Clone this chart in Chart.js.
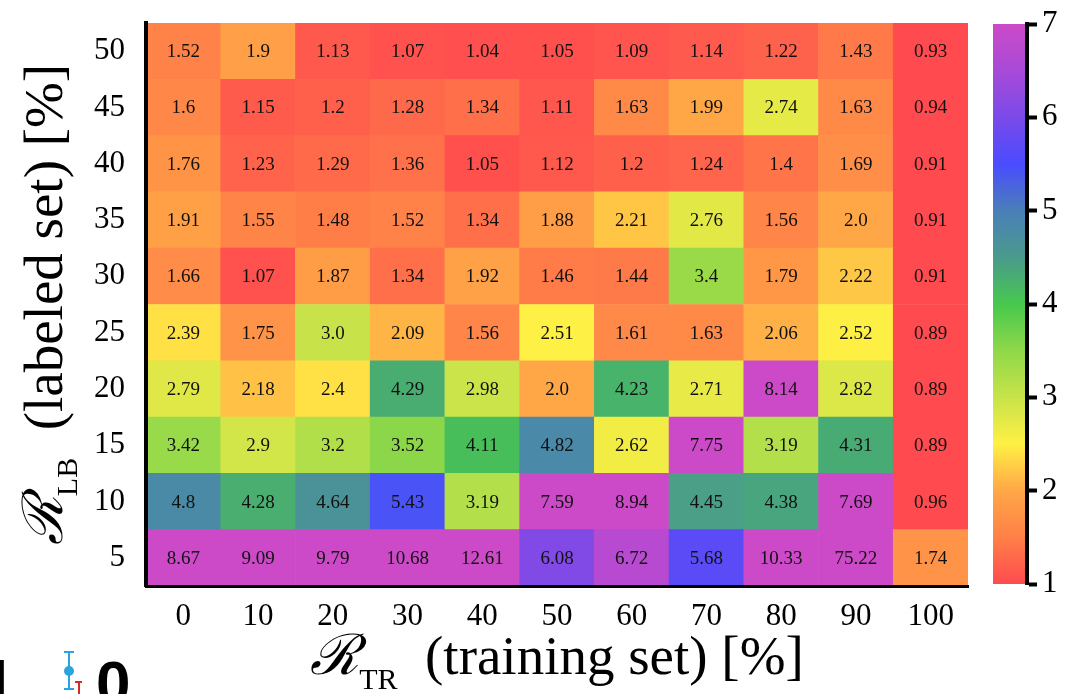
<!DOCTYPE html>
<html>
<head>
<meta charset="utf-8">
<script src="https://cdn.jsdelivr.net/npm/chart.js@4.4.1/dist/chart.umd.min.js"></script>
<style>
    body { margin: 0; background: #fff; }
    #wrap { position: relative; width: 1081px; height: 694px; overflow: hidden; background: #fff; }
    #wrap canvas { position: absolute; left: 0; top: 0; }
    .frag { position: absolute; font-family: 'Liberation Sans', Arial, sans-serif; font-weight: bold; font-size: 62px; line-height: 1; color: #000; }
    .eb { position: absolute; background: #2ba3dc; }
    .rt { position: absolute; background: #d42a2a; }
</style>
</head>
<body>
<div id="wrap">
    <canvas id="heat" width="1081" height="694"></canvas>
    <canvas id="cbar" width="1081" height="694"></canvas>
    <!-- cropped bits of the neighbouring panel -->
    <span class="frag" style="left:-9px; top:652px;">l</span>
    <span class="frag" style="left:96px; top:652px;">0</span>
    <div class="eb" style="left:68px; top:652px; width:2px; height:38px;"></div>
    <div class="eb" style="left:64px; top:651px; width:10px; height:2px;"></div>
    <div class="eb" style="left:64px; top:688px; width:10px; height:2px;"></div>
    <div class="eb" style="left:64px; top:666px; width:10px; height:10px; border-radius:50%;"></div>
    <div class="rt" style="left:75px; top:681px; width:7px; height:2px;"></div>
    <div class="rt" style="left:78px; top:681px; width:1.5px; height:14px;"></div>
</div>
<script>
// R_TR (training set) columns and R_LB (labeled set) rows
const xLabels = ['0', '10', '20', '30', '40', '50', '60', '70', '80', '90', '100'];
const yLevels = [5, 10, 15, 20, 25, 30, 35, 40, 45, 50];

const row5  = [8.67, 9.09, 9.79, 10.68, 12.61, 6.08, 6.72, 5.68, 10.33, 75.22, 1.74];
const row10 = [4.8, 4.28, 4.64, 5.43, 3.19, 7.59, 8.94, 4.45, 4.38, 7.69, 0.96];
const row15 = [3.42, 2.9, 3.2, 3.52, 4.11, 4.82, 2.62, 7.75, 3.19, 4.31, 0.89];
const row20 = [2.79, 2.18, 2.4, 4.29, 2.98, 2.0, 4.23, 2.71, 8.14, 2.82, 0.89];
const row25 = [2.39, 1.75, 3.0, 2.09, 1.56, 2.51, 1.61, 1.63, 2.06, 2.52, 0.89];
const row30 = [1.66, 1.07, 1.87, 1.34, 1.92, 1.46, 1.44, 3.4, 1.79, 2.22, 0.91];
const row35 = [1.91, 1.55, 1.48, 1.52, 1.34, 1.88, 2.21, 2.76, 1.56, 2.0, 0.91];
const row40 = [1.76, 1.23, 1.29, 1.36, 1.05, 1.12, 1.2, 1.24, 1.4, 1.69, 0.91];
const row45 = [1.6, 1.15, 1.2, 1.28, 1.34, 1.11, 1.63, 1.99, 2.74, 1.63, 0.94];
const row50 = [1.52, 1.9, 1.13, 1.07, 1.04, 1.05, 1.09, 1.14, 1.22, 1.43, 0.93];
const rowValues = [row5, row10, row15, row20, row25, row30, row35, row40, row45, row50];

const cbarTicks = [1, 2, 3, 4, 5, 6, 7];
const xTitle = ['ℛ', 'TR', '  (training set) [%]'];
const yTitle = ['ℛ', 'LB', '  (labeled set) [%]'];

// colour map
const cmapStops = [
    [1.0, '#ff4b4f'], [1.5, '#ff8048'], [2.0, '#ffa747'], [2.5, '#fff044'],
    [3.0, '#c8e34a'], [3.5, '#8fd849'], [4.0, '#47c84d'], [4.5, '#4a9a8c'],
    [5.0, '#4a7fb8'], [5.5, '#4a4cff'], [6.0, '#7a4ae9'], [6.5, '#a84ad8'],
    [7.0, '#cc4ac8']
];

const SERIF = '"Liberation Serif", "DejaVu Serif", serif';

function hexToRgb(h) {
    const n = parseInt(h.slice(1), 16);
    return [(n >> 16) & 255, (n >> 8) & 255, n & 255];
}

function colorFor(v) {
    const lo = cmapStops[0][0], hi = cmapStops[cmapStops.length - 1][0];
    const t = Math.min(Math.max(v, lo), hi);
    for (let i = 1; i < cmapStops.length; i++) {
        const [v0, c0] = cmapStops[i - 1];
        const [v1, c1] = cmapStops[i];
        if (t <= v1) {
            const f = (t - v0) / (v1 - v0);
            const a = hexToRgb(c0), b = hexToRgb(c1);
            const mix = a.map((x, k) => Math.round(x + (b[k] - x) * f));
            return `rgb(${mix.join(',')})`;
        }
    }
    return cmapStops[cmapStops.length - 1][1];
}

const fmt = v => Number.isInteger(v) ? v.toFixed(1) : String(v);

function drawRuns(ctx, runs, cx, baseline) {
    let total = 0;
    runs.forEach(r => {
        ctx.font = `${r.style || ''} ${r.size}px ${r.family || SERIF}`;
        r.w = ctx.measureText(r.text).width;
        total += r.w;
    });
    let x = cx - total / 2;
    runs.forEach(r => {
        ctx.font = `${r.style || ''} ${r.size}px ${r.family || SERIF}`;
        ctx.fillText(r.text, x, baseline + (r.dy || 0));
        x += r.w;
    });
}

function titleRuns(parts) {
    return [
        { text: parts[0], size: 56, style: 'italic', family: '"DejaVu Serif", serif' },
        { text: parts[1], size: 30, dy: 15 },
        { text: parts[2], size: 55 }
    ];
}

const cellLabels = {
    id: 'cellLabels',
    afterDatasetsDraw(chart) {
        const { ctx } = chart;
        ctx.save();
        ctx.font = `19px ${SERIF}`;
        ctx.fillStyle = '#111';
        ctx.textAlign = 'center';
        ctx.textBaseline = 'middle';
        chart.data.datasets.forEach((ds, i) => {
            chart.getDatasetMeta(i).data.forEach((bar, j) => {
                ctx.fillText(fmt(ds.values[j]), bar.x, (bar.y + bar.base) / 2 + 1);
            });
        });
        ctx.restore();
    }
};

const axisTitles = {
    id: 'axisTitles',
    afterDraw(chart) {
        const { ctx, chartArea: a } = chart;
        const cx = (a.left + a.right) / 2;
        const cy = (a.top + a.bottom) / 2;
        ctx.save();
        ctx.fillStyle = '#000';
        ctx.textAlign = 'left';
        ctx.textBaseline = 'alphabetic';
        drawRuns(ctx, titleRuns(xTitle), cx, 674);
        ctx.translate(62, cy);
        ctx.rotate(-Math.PI / 2);
        drawRuns(ctx, titleRuns(yTitle), 0, 0);
        ctx.restore();
    }
};

const tickFont = { family: SERIF, size: 31 };

new Chart(document.getElementById('heat'), {
    type: 'bar',
    data: {
        labels: xLabels,
        datasets: yLevels.map((lvl, i) => ({
            label: 'R_LB ' + lvl,
            data: xLabels.map(() => [lvl - 2.5, lvl + 2.5]),
            values: rowValues[i],
            backgroundColor: rowValues[i].map(colorFor),
            borderWidth: 0,
            grouped: false,
            barPercentage: 1,
            categoryPercentage: 1
        }))
    },
    options: {
        responsive: false,
        animation: false,
        layout: { padding: { top: 23, right: 113, left: 0, bottom: 0 } },
        plugins: { legend: { display: false }, tooltip: { enabled: false } },
        scales: {
            x: {
                grid: { display: false, drawTicks: false },
                border: { display: true, color: '#000', width: 3, z: 1 },
                ticks: { font: tickFont, color: '#000', padding: 12, maxRotation: 0 },
                afterFit: s => { s.height = 108; s.paddingLeft = 0; s.paddingRight = 0; }
            },
            y: {
                min: 2.5,
                max: 52.5,
                afterBuildTicks: s => { s.ticks = yLevels.map(v => ({ value: v })); },
                grid: { display: false, drawTicks: false },
                border: { display: true, color: '#000', width: 4, z: 1 },
                ticks: { font: tickFont, color: '#000', padding: 21 },
                afterFit: s => { s.width = 146; s.paddingTop = 0; s.paddingBottom = 0; }
            }
        }
    },
    plugins: [cellLabels, axisTitles]
});

new Chart(document.getElementById('cbar'), {
    type: 'bar',
    data: {
        labels: [''],
        datasets: [{
            data: [[cbarTicks[0], cbarTicks[cbarTicks.length - 1]]],
            backgroundColor: c => {
                const ch = c.chart;
                const ys = ch.scales.y;
                if (!ch.chartArea || !ys) return '#fff';
                const g = ch.ctx.createLinearGradient(0, ys.getPixelForValue(1), 0, ys.getPixelForValue(7));
                cmapStops.forEach(([v, col]) => g.addColorStop((v - 1) / 6, col));
                return g;
            },
            borderWidth: 0,
            barPercentage: 1,
            categoryPercentage: 1
        }]
    },
    options: {
        responsive: false,
        animation: false,
        layout: { padding: { left: 993, top: 24, bottom: 110, right: 0 } },
        plugins: { legend: { display: false }, tooltip: { enabled: false } },
        scales: {
            x: { display: false },
            y: {
                position: 'right',
                min: 1,
                max: 7,
                ticks: { stepSize: 1, font: tickFont, color: '#000', padding: 5 },
                grid: { drawOnChartArea: false, drawTicks: true, tickLength: 10, tickWidth: 4, color: '#000' },
                border: { color: '#000', width: 4, z: 1 },
                afterFit: s => { s.width = 54; s.paddingTop = 0; s.paddingBottom = 0; }
            }
        }
    }
});
</script>
</body>
</html>
